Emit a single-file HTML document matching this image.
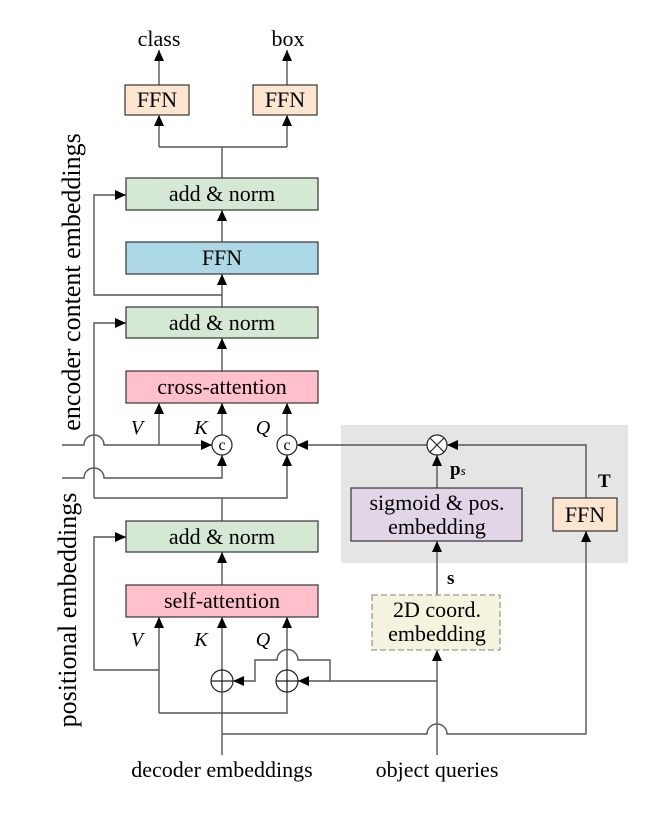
<!DOCTYPE html>
<html><head><meta charset="utf-8"><style>
html,body{margin:0;padding:0;background:#fff;}
svg{display:block;}
text{font-family:"Liberation Serif","DejaVu Serif",serif;fill:#000;}
</style></head><body>
<svg width="672" height="819" viewBox="0 0 672 819" xmlns="http://www.w3.org/2000/svg">
<defs>
<marker id="a" markerUnits="userSpaceOnUse" markerWidth="12" markerHeight="10" refX="11" refY="5" orient="auto">
<path d="M0,0 L11,5 L0,10 z" fill="#000"/>
</marker>
</defs>
<rect x="341" y="425" width="287" height="138" fill="#e5e5e5"/>
<g fill="none" stroke="#555" stroke-width="1.4">
<path d="M159,85 V50" marker-end="url(#a)"/>
<path d="M287,85 V50" marker-end="url(#a)"/>
<path d="M222,178 V147 M159,147 H287"/>
<path d="M159,147 V115" marker-end="url(#a)"/>
<path d="M287,147 V115" marker-end="url(#a)"/>
<path d="M222,242 V210" marker-end="url(#a)"/>
<path d="M222,307 V274" marker-end="url(#a)"/>
<path d="M222,295 H94 V195 H126" marker-end="url(#a)"/>
<path d="M222,371 V338" marker-end="url(#a)"/>
<path d="M94,498 V323 H126" marker-end="url(#a)"/>
<path d="M159,445 V403" marker-end="url(#a)"/>
<path d="M222,435 V403" marker-end="url(#a)"/>
<path d="M287,435 V403" marker-end="url(#a)"/>
<path d="M62,445 H84 A10,10 0 0 1 104,445 H212" marker-end="url(#a)"/>
<path d="M62,478 H84 A10,10 0 0 1 104,478 H222 V455" marker-end="url(#a)"/>
<path d="M94,498 H287 V455" marker-end="url(#a)"/>
<path d="M222,521 V498"/>
<path d="M427,445 H297" marker-end="url(#a)"/>
<path d="M222,585 V552" marker-end="url(#a)"/>
<path d="M159,670 H94 V537 H126" marker-end="url(#a)"/>
<path d="M159,713 V617" marker-end="url(#a)"/>
<path d="M222,670 V617" marker-end="url(#a)"/>
<path d="M287,670 V617" marker-end="url(#a)"/>
<path d="M159,713 H287 V692"/>
<path d="M222,755 V692"/>
<path d="M222,734 H427 A10,10 0 0 1 447,734 H586 V531" marker-end="url(#a)"/>
<path d="M437,755 V650" marker-end="url(#a)"/>
<path d="M437,681 H298" marker-end="url(#a)"/>
<path d="M330,681 V660 H298 A10,10 0 0 0 277,660 H255 V681 H233" marker-end="url(#a)"/>
<path d="M437,595 V541" marker-end="url(#a)"/>
<path d="M437,488 V455" marker-end="url(#a)"/>
<path d="M586,498 V445 H447" marker-end="url(#a)"/>
</g>
<g stroke="#333" stroke-width="1.2">
<rect x="125" y="85" width="64" height="30" fill="#fde5cf"/>
<rect x="253" y="85" width="64" height="30" fill="#fde5cf"/>
<rect x="126" y="178" width="192" height="32" fill="#d5e8d4"/>
<rect x="126" y="242" width="192" height="32" fill="#add8e6"/>
<rect x="126" y="307" width="192" height="31" fill="#d5e8d4"/>
<rect x="126" y="371" width="192" height="32" fill="#ffc0cb"/>
<rect x="126" y="521" width="192" height="31" fill="#d5e8d4"/>
<rect x="126" y="585" width="192" height="32" fill="#ffc0cb"/>
<rect x="351" y="488" width="171" height="53" fill="#e1d5e7"/>
<rect x="553" y="498" width="64" height="33" fill="#fde5cf"/>
</g>
<rect x="372" y="595" width="128" height="55" fill="#f3f3de" stroke="#a09a90" stroke-width="1.3" stroke-dasharray="6,3"/>
<g stroke="#222" stroke-width="1.2" fill="#fff">
<circle cx="222" cy="445" r="10"/>
<circle cx="287" cy="445" r="10"/>
<circle cx="437" cy="445" r="10"/>
<circle cx="222" cy="681" r="11"/>
<circle cx="287" cy="681" r="11"/>
</g>
<g stroke="#222" stroke-width="1.2">
<path d="M430,438 L444,452 M444,438 L430,452"/>
<path d="M211,681 H233 M222,670 V692"/>
<path d="M276,681 H298 M287,670 V692"/>
</g>
<g font-size="16" text-anchor="middle">
<text x="222" y="450">c</text>
<text x="287" y="450">c</text>
</g>
<g font-size="22" text-anchor="middle">
<text x="159" y="46">class</text>
<text x="288" y="46">box</text>
<text x="157" y="107">FFN</text>
<text x="285" y="107">FFN</text>
<text x="222" y="201">add &amp; norm</text>
<text x="222" y="265">FFN</text>
<text x="222" y="330">add &amp; norm</text>
<text x="222" y="394">cross-attention</text>
<text x="222" y="544">add &amp; norm</text>
<text x="222" y="608">self-attention</text>
<text x="437" y="510">sigmoid &amp; pos.</text>
<text x="437" y="534">embedding</text>
<text x="585" y="522">FFN</text>
<text x="437" y="617">2D coord.</text>
<text x="437" y="641">embedding</text>
<text x="222" y="777">decoder embeddings</text>
<text x="437" y="777">object queries</text>
</g>
<g font-size="20" font-style="italic" text-anchor="middle">
<text x="137" y="434">V</text>
<text x="201" y="434">K</text>
<text x="263" y="434">Q</text>
<text x="137" y="646">V</text>
<text x="201" y="646">K</text>
<text x="263" y="646">Q</text>
</g>
<g font-size="19" font-weight="bold">
<text x="450" y="475">p<tspan font-size="13" font-style="italic" font-weight="normal">s</tspan></text>
<text x="598" y="487">T</text>
<text x="447" y="584">s</text>
</g>
<g font-size="26" text-anchor="middle">
<text transform="translate(80,282) rotate(-90)">encoder content embeddings</text>
<text transform="translate(76,610) rotate(-90)">positional embeddings</text>
</g>
</svg>
</body></html>
